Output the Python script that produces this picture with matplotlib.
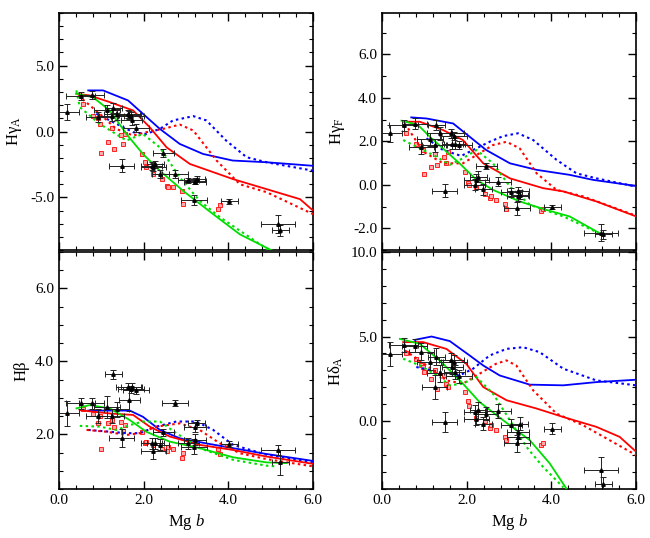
import matplotlib
matplotlib.use("Agg")
import matplotlib.pyplot as plt
from matplotlib.ticker import MultipleLocator, FormatStrFormatter

plt.rcParams['font.family'] = ['Liberation Serif', 'DejaVu Serif']
plt.rcParams['mathtext.fontset'] = 'custom'
plt.rcParams['mathtext.rm'] = 'Liberation Serif'
plt.rcParams['mathtext.it'] = 'Liberation Serif:italic'

# ---------------- observed galaxies (black error bars) ----------------
obs_mgb = [0.18, 0.51, 0.77, 0.93, 1.13, 1.24, 1.28, 1.48, 1.36, 1.64, 1.70, 1.66, 1.82, 1.72,
           2.19, 2.23, 2.27, 2.39, 2.46, 2.74, 3.05, 3.21, 3.25, 3.21, 3.19, 4.02, 5.18, 5.22]
obs_mgb_err = [0.3, 0.35, 0.3, 0.3, 0.3, 0.3, 0.2, 0.3, 0.3, 0.3, 0.3, 0.25, 0.3, 0.25,
               0.25, 0.3, 0.2, 0.2, 0.25, 0.3, 0.25, 0.25, 0.2, 0.25, 0.3, 0.2, 0.4, 0.2]
obs_hga = [1.5, 2.7, 2.75, 1.1, 1.6, 1.2, 1.8, -2.6, 1.3, 1.3, 1.2, 1.25, 0.3, 0.9,
           -2.6, -2.7, -2.5, -3.2, -1.6, -3.2, -3.7, -3.8, -3.6, -3.75, -5.2, -5.3, -7.0, -7.5]
obs_hga_err = [0.6, 0.3, 0.3, 0.4, 0.4, 0.4, 0.4, 0.5, 0.4, 0.3, 0.3, 0.3, 0.3, 0.4,
               0.3, 0.3, 0.3, 0.3, 0.3, 0.3, 0.2, 0.2, 0.2, 0.2, 0.4, 0.2, 0.7, 0.4]
obs_hgf = [2.37, 2.73, 2.8, 1.76, 2.1, 1.83, 2.75, -0.26, 2.37, 2.37, 2.25, 1.9, 1.83, 1.9,
           0.0, 0.23, 0.38, -0.2, 0.87, 0.15, -0.35, -0.3, -0.45, -0.53, -1.07, -1.02, -2.2, -2.28]
obs_hgf_err = [0.4, 0.25, 0.25, 0.35, 0.3, 0.3, 0.25, 0.3, 0.3, 0.2, 0.2, 0.25, 0.2, 0.25,
               0.25, 0.25, 0.25, 0.25, 0.15, 0.2, 0.2, 0.2, 0.2, 0.2, 0.3, 0.1, 0.4, 0.2]
obs_hb = [2.57, 2.85, 2.85, 2.5, 2.75, 2.5, 3.64, 1.9, 2.68, 3.3, 3.23, 2.94, 3.2, 3.3,
          1.75, 1.53, 1.75, 1.71, 2.05, 2.85, 1.75, 2.2, 2.3, 1.85, 1.66, 1.74, 1.57, 1.23]
obs_hb_err = [0.35, 0.15, 0.15, 0.2, 0.3, 0.2, 0.12, 0.25, 0.2, 0.1, 0.1, 0.3, 0.1, 0.1,
              0.15, 0.2, 0.15, 0.15, 0.1, 0.08, 0.15, 0.15, 0.1, 0.15, 0.2, 0.08, 0.15, 0.35]
obs_hda = [3.98, 4.5, 4.47, 4.1, 3.5, 2.0, 3.8, -0.04, 2.84, 3.6, 3.5, 3.2, 2.65, 2.9,
           0.55, 0.16, 0.65, -0.14, 0.45, 0.6, -0.24, -0.63, -0.14, -0.9, -1.3, -0.43, -2.9, -3.7]
obs_hda_err = [0.7, 0.4, 0.4, 0.5, 0.5, 0.7, 0.5, 0.6, 0.5, 0.4, 0.4, 0.4, 0.4, 0.4,
               0.4, 0.4, 0.5, 0.4, 0.4, 0.4, 0.4, 0.4, 0.4, 0.4, 0.5, 0.3, 0.8, 0.4]

# ---------------- red squares ----------------
red_mgb = [0.57, 0.8, 0.92, 0.96, 1.0, 1.16, 1.3, 1.24, 1.47, 1.5, 1.55, 1.95, 2.03, 2.06,
           2.22, 2.42, 2.54, 2.57, 2.69, 2.9, 2.93, 3.76, 3.8]
red_hga = [2.1, 1.2, 1.0, 0.6, -1.6, -0.8, -1.3, 0.3, -0.3, -0.95, -0.2, -1.7, -2.3, -2.7,
           -3.2, -3.6, -4.1, -4.2, -4.2, -4.5, -5.5, -5.9, -5.6]
red_hgf = [2.4, 1.9, 1.8, 1.6, 0.5, 0.8, 0.9, 1.4, 1.3, 1.0, 1.5, 0.6, 0.1, 0.0,
           -0.1, -0.4, -0.6, -0.5, -0.7, -0.9, -1.1, -1.2, -1.1]
red_hb = [2.7, 2.55, 2.3, 2.5, 1.6, 2.3, 2.2, 2.4, 2.35, 2.1, 2.25, 2.05, 1.75, 1.8,
          1.7, 1.6, 1.55, 1.65, 1.6, 1.35, 1.5, 1.6, 1.45]
red_hda = [4.0, 3.7, 3.3, 3.2, 2.9, 2.5, 1.9, 3.0, 2.7, 2.2, 2.0, 1.7, 1.2, 0.9,
           0.2, 0.0, -0.4, -0.2, -0.5, -0.9, -1.1, -1.4, -1.3]

# ---------------- model tracks ----------------
hga_models = {
    'blue_solid': ([0.69, 1.04, 1.63, 1.98, 2.38, 2.85, 3.4, 4.1, 4.9, 6.0],
                   [3.12, 3.12, 2.36, 1.35, 0.2, -0.94, -1.7, -2.2, -2.33, -2.6]),
    'blue_dot': ([0.88, 1.2, 1.75, 2.06, 2.38, 2.69, 3.17, 3.48, 3.95, 4.43, 4.9, 6.0],
                 [1.35, 0.84, -0.05, -0.18, 0.2, 0.84, 1.17, 0.84, -0.7, -1.95, -2.33, -2.97]),
    'red_solid': ([0.41, 0.72, 1.2, 1.75, 2.14, 2.54, 3.09, 4.1, 4.9, 5.69, 6.0],
                  [2.87, 2.74, 2.23, 1.6, 0.33, -1.2, -2.46, -3.6, -4.37, -5.13, -6.0]),
    'red_dot': ([0.45, 0.96, 1.35, 1.75, 2.06, 2.46, 2.85, 3.17, 3.72, 4.27, 4.9, 6.0],
                [2.74, 1.35, 0.2, -0.3, -0.05, 0.2, 0.53, 0.08, -2.2, -4.0, -4.6, -6.27]),
    'green_solid': ([0.41, 0.8, 1.2, 1.59, 1.98, 2.38, 2.93, 3.64, 4.27, 5.05],
                    [2.87, 2.6, 1.6, -0.18, -1.7, -2.97, -4.5, -6.27, -7.8, -9.06]),
    'green_dot': ([0.41, 0.49, 0.96, 1.59, 1.98, 2.38, 2.85, 3.32, 3.8, 4.98],
                  [3.12, 1.85, 0.58, -0.68, -0.18, -1.2, -3.48, -5.25, -6.5, -9.06]),
}
hgf_models = {
    'blue_solid': ([0.69, 1.05, 1.68, 2.07, 2.46, 3.02, 3.65, 4.43, 4.98, 6.0],
                   [3.1, 3.05, 2.82, 2.21, 1.6, 0.99, 0.69, 0.46, 0.23, -0.05]),
    'blue_dot': ([1.05, 1.44, 1.87, 2.23, 2.54, 2.86, 3.21, 3.57, 4.12, 4.59, 5.06, 6.0],
                 [2.14, 1.6, 1.33, 1.68, 1.98, 2.24, 2.37, 2.06, 1.15, 0.53, 0.3, -0.08]),
    'red_solid': ([0.5, 0.89, 1.44, 1.91, 2.39, 3.02, 3.8, 4.28, 5.06, 6.0],
                  [2.9, 2.9, 2.52, 2.06, 0.99, 0.3, -0.15, -0.3, -0.76, -1.45]),
    'red_dot': ([0.54, 0.97, 1.44, 1.91, 2.3, 2.62, 2.94, 3.25, 3.65, 4.12, 4.75, 6.0],
                [2.82, 1.53, 0.99, 0.99, 1.45, 1.83, 1.98, 1.68, 0.53, -0.23, -0.53, -1.42]),
    'green_solid': ([0.46, 0.85, 1.13, 1.83, 2.23, 2.62, 3.25, 3.88, 4.43, 5.2],
                    [2.95, 2.75, 2.21, 0.99, 0.23, -0.23, -0.76, -1.15, -1.45, -2.29]),
    'green_dot': ([0.5, 0.89, 1.28, 1.6, 1.91, 2.23, 2.62, 3.02, 3.49, 4.28, 5.2],
                  [2.06, 1.68, 1.3, 0.92, 1.22, 1.6, 0.99, -0.08, -0.92, -1.45, -2.29]),
}
hb_models = {
    'blue_solid': ([0.69, 0.96, 1.67, 1.98, 2.38, 2.85, 3.48, 4.11, 4.9, 6.0],
                   [2.65, 2.65, 2.65, 2.48, 2.12, 1.89, 1.75, 1.62, 1.46, 1.27]),
    'blue_dot': ([0.69, 1.2, 1.59, 1.9, 2.3, 2.77, 3.24, 3.64, 4.11, 4.9, 6.0],
                 [2.12, 2.07, 2.03, 2.03, 2.21, 2.35, 2.35, 2.12, 1.71, 1.44, 1.23]),
    'red_solid': ([0.49, 0.8, 1.2, 1.75, 2.14, 2.61, 3.32, 4.11, 4.9, 6.0],
                  [2.66, 2.62, 2.57, 2.53, 2.21, 1.94, 1.71, 1.57, 1.39, 1.19]),
    'red_dot': ([0.65, 1.12, 1.59, 1.9, 2.3, 2.85, 3.32, 3.8, 4.27, 4.9, 6.0],
                [2.12, 2.07, 1.98, 2.03, 2.21, 2.3, 2.12, 1.75, 1.48, 1.32, 1.12]),
    'green_solid': ([0.41, 0.72, 1.2, 1.67, 2.06, 2.61, 3.32, 4.11, 4.9, 5.37],
                    [2.71, 2.8, 2.71, 2.39, 2.07, 1.8, 1.62, 1.37, 1.23, 1.21]),
    'green_dot': ([0.49, 0.96, 1.35, 1.67, 1.98, 2.38, 2.77, 3.32, 4.11, 4.9, 5.13],
                  [2.23, 2.21, 2.12, 2.25, 2.35, 2.35, 2.03, 1.62, 1.3, 1.14, 1.12]),
}
hda_models = {
    'blue_solid': ([0.77, 1.17, 1.6, 2.07, 2.39, 2.78, 3.49, 4.28, 5.06, 6.0],
                   [4.8, 5.0, 4.73, 3.88, 3.29, 2.7, 2.16, 2.12, 2.31, 2.45]),
    'blue_dot': ([0.81, 1.36, 1.83, 2.15, 2.54, 2.94, 3.33, 3.72, 4.28, 5.06, 6.0],
                 [3.2, 2.9, 2.7, 3.1, 3.88, 4.27, 4.37, 4.08, 3.1, 2.41, 2.12]),
    'red_solid': ([0.5, 0.97, 1.52, 1.99, 2.39, 2.94, 3.65, 4.28, 5.06, 5.61, 6.0],
                  [4.67, 4.67, 4.27, 3.39, 2.02, 1.24, 0.75, 0.25, -0.33, -0.92, -1.8]),
    'red_dot': ([0.54, 1.05, 1.52, 1.91, 2.3, 2.69, 2.94, 3.17, 3.57, 4.12, 4.75, 6.0],
                [4.18, 3.3, 2.41, 2.22, 2.8, 3.39, 3.59, 3.29, 1.82, 0.45, -0.24, -2.0]),
    'green_solid': ([0.42, 0.89, 1.36, 1.91, 2.3, 2.86, 3.49, 3.96, 4.35],
                    [4.86, 4.57, 3.59, 2.22, 1.14, 0.06, -1.12, -2.49, -3.96]),
    'green_dot': ([0.5, 0.89, 1.36, 1.6, 1.91, 2.23, 2.62, 3.02, 3.41, 3.8, 4.28],
                  [3.69, 3.3, 2.61, 2.12, 2.22, 2.61, 1.63, 0.06, -1.51, -2.69, -3.9]),
}

colors = {'blue': '#0000ff', 'red': '#ff0000', 'green': '#00dd00'}

fig = plt.figure(figsize=(6.5, 5.38), dpi=100)
L1, L2, W = 0.0908, 0.5877, 0.391
B1, B2, H = 0.091, 0.535, 0.441

panels = [
    ([L1, B2, W, H], hga_models, obs_hga, obs_hga_err, red_hga, (-9, 9), 5, 1, 'Hγ$_{\\rm A}$', False),
    ([L2, B2, W, H], hgf_models, obs_hgf, obs_hgf_err, red_hgf, (-3, 7.9), 2, 1, 'Hγ$_{\\rm F}$', False),
    ([L1, B1, W, H], hb_models, obs_hb, obs_hb_err, red_hb, (0.5, 7.0), 2, 0.5, 'Hβ', True),
    ([L2, B1, W, H], hda_models, obs_hda, obs_hda_err, red_hda, (-4, 10), 5, 1, 'Hδ$_{\\rm A}$', True),
]

for rect, models, oy, oyerr, ry, ylim, ymaj, ymin, ylab, showx in panels:
    ax = fig.add_axes(rect)
    ax.plot(red_mgb, ry, 's', ms=3, mfc='#ffaaaa', mec='#ff2020', mew=0.7, zorder=2)
    for key, (xs, ys) in models.items():
        c, st = key.split('_')
        if st == 'solid':
            ax.plot(xs, ys, '-', color=colors[c], lw=1.3, zorder=3)
        else:
            ax.plot(xs, ys, color=colors[c], lw=1.5, dashes=(1.2, 1.6), zorder=3)
    ax.errorbar(obs_mgb, oy, xerr=obs_mgb_err, yerr=oyerr, fmt='^', ms=2.5, color='black',
                ecolor='#222222', elinewidth=0.7, capsize=2.5, capthick=0.7, zorder=4)
    ax.set_xlim(0, 6)
    ax.set_ylim(*ylim)
    ax.xaxis.set_major_locator(MultipleLocator(2))
    ax.xaxis.set_minor_locator(MultipleLocator(0.4))
    ax.yaxis.set_major_locator(MultipleLocator(ymaj))
    ax.yaxis.set_minor_locator(MultipleLocator(ymin))
    ax.yaxis.set_major_formatter(FormatStrFormatter('%.1f'))
    ax.xaxis.set_major_formatter(FormatStrFormatter('%.1f'))
    ax.tick_params(which='both', direction='in', top=True, right=True, labelsize=11)
    ax.tick_params(which='major', length=6, width=1)
    ax.tick_params(which='minor', length=3, width=0.8)
    for s in ax.spines.values():
        s.set_linewidth(1.2)
    if not showx:
        ax.tick_params(labelbottom=False)
    else:
        ax.set_xlabel(r'Mg $b$', fontsize=12)
    ax.set_ylabel(ylab, fontsize=12)

fig.savefig('out.png', dpi=100)
